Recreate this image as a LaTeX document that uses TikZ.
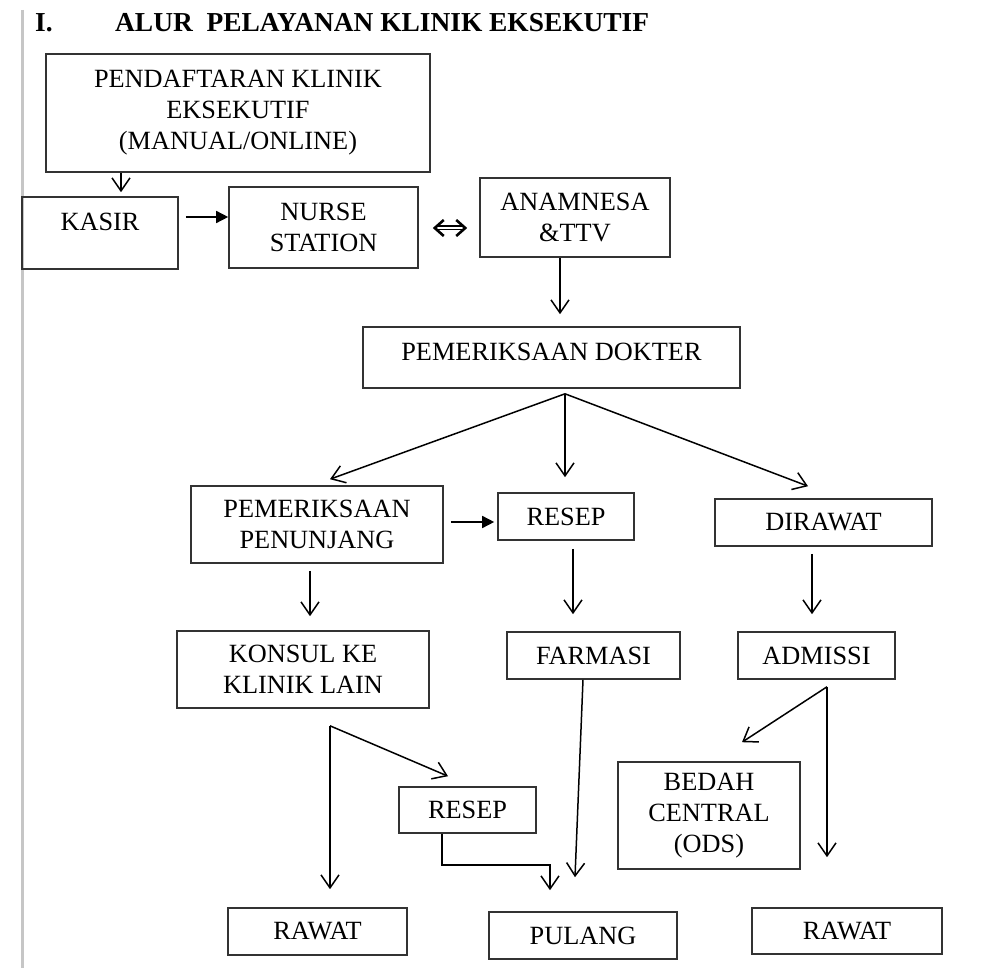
\documentclass[tikz,border=0pt]{standalone}
\usepackage{fontspec}
\setmainfont{Liberation Serif}
\usetikzlibrary{arrows.meta,calc}

\tikzset{
  kotak/.style={draw=black!80, line width=1.6pt, align=center, inner sep=0pt,
    font=\fontsize{26.3}{31}\selectfont},
  panah/.style={line width=1.5pt, -{Straight Barb[length=13pt,width=18pt]}},
  panahpenuh/.style={line width=1.5pt, -{Triangle[length=12pt,width=12pt]}},
  panahdua/.style={double, double distance=2.4pt, line width=1.3pt,
    {Straight Barb[length=9pt,width=16pt,line width=2.6pt]}-{Straight Barb[length=9pt,width=16pt,line width=2.6pt]}},
  judulteks/.style={font=\fontsize{27.4}{31}\selectfont\bfseries, anchor=base west, inner sep=0pt}
}

\begin{document}
\begin{tikzpicture}[x=1pt, y=-1pt]
  \useasboundingbox (0,0) rectangle (997,968);

  % Gray margin line on the left
  \draw[gray!45, line width=3pt] (22,10) -- (22,968);

  % Title
  \node[judulteks] (nomor) at (35,32) {I.};
  \node[judulteks] (judul) at (115,32) {ALUR\ \ PELAYANAN KLINIK EKSEKUTIF};

  % Boxes, placed at their centres
  \node[kotak, minimum width=384pt, minimum height=118pt] (daftar) at (238,113) {PENDAFTARAN KLINIK\\EKSEKUTIF\\(MANUAL/ONLINE)};
  \node[kotak, minimum width=156pt, minimum height=72pt, text depth=22pt] (kasir) at (100,233) {KASIR};
  \node[kotak, minimum width=189pt, minimum height=81pt] (nurse) at (323.5,227.5) {NURSE\\STATION};
  \node[kotak, minimum width=190pt, minimum height=79pt] (anamnesa) at (575,217.5) {ANAMNESA\\\&TTV};
  \node[kotak, minimum width=377pt, minimum height=61pt, text depth=12pt] (dokter) at (551.5,357.5) {PEMERIKSAAN DOKTER};

  \node[kotak, minimum width=252pt, minimum height=77pt] (penunjang) at (317,524.5) {PEMERIKSAAN\\PENUNJANG};
  \node[kotak, minimum width=136pt, minimum height=47pt] (resep) at (566,516.5) {RESEP};
  \node[kotak, minimum width=217pt, minimum height=47pt] (dirawat) at (823.5,522.5) {DIRAWAT};

  \node[kotak, minimum width=252pt, minimum height=77pt] (konsul) at (303,669.5) {KONSUL KE\\KLINIK LAIN};
  \node[kotak, minimum width=173pt, minimum height=47pt] (farmasi) at (593.5,655.5) {FARMASI};
  \node[kotak, minimum width=157pt, minimum height=47pt] (admissi) at (816.5,655.5) {ADMISSI};

  \node[kotak, minimum width=137pt, minimum height=46pt] (resepkonsul) at (467.5,810) {RESEP};
  \node[kotak, minimum width=182pt, minimum height=107pt] (bedah) at (709,815.5) {BEDAH\\CENTRAL\\(ODS)};

  \node[kotak, minimum width=179pt, minimum height=47pt] (rawatkiri) at (317.5,931.5) {RAWAT};
  \node[kotak, minimum width=188pt, minimum height=47pt] (pulang) at (583,935.5) {PULANG};
  \node[kotak, minimum width=190pt, minimum height=46pt] (rawatkanan) at (847,931) {RAWAT};

  % Top row
  \draw[panah] (121,0 |- daftar.south) -- ($(121,0 |- kasir.north)+(0,-4)$);
  \draw[panahpenuh] ($(kasir.east |- 0,217)+(7,0)$) -- (nurse.west |- 0,217);
  \draw[panahdua] ($(nurse.east |- 0,228)+(14,0)$) -- ($(anamnesa.west |- 0,228)+(-12,0)$);
  \draw[panah] (560,0 |- anamnesa.south) -- ($(560,0 |- dokter.north)+(0,-12)$);

  % Three ways out of the doctor
  \coordinate (cabang) at ($(565,0 |- dokter.south)+(0,5)$);
  \draw[panah] (cabang) -- ($(330,0 |- penunjang.north)+(0,-6)$);
  \draw[panah] (cabang) -- ($(565,0 |- resep.north)+(0,-15)$);
  \draw[panah] (cabang) -- ($(808,0 |- dirawat.north)+(0,-12)$);

  \draw[panahpenuh] ($(penunjang.east |- 0,522)+(7,0)$) -- ($(resep.west |- 0,522)+(-3,0)$);
  \draw[panah] ($(310,0 |- penunjang.south)+(0,7)$) -- ($(310,0 |- konsul.north)+(0,-14)$);
  \draw[panah] ($(573,0 |- resep.south)+(0,8)$) -- ($(573,0 |- farmasi.north)+(0,-17)$);
  \draw[panah] ($(812,0 |- dirawat.south)+(0,7)$) -- ($(812,0 |- admissi.north)+(0,-17)$);

  % After the consultation
  \coordinate (cabangkonsul) at ($(330,0 |- konsul.south)+(0,17)$);
  \draw[panah] (cabangkonsul) -- ($(330,0 |- rawatkiri.north)+(0,-18)$);
  \draw[panah] (cabangkonsul) -- ($(448,0 |- resepkonsul.north)+(0,-10)$);
  \draw[panah] (442,0 |- resepkonsul.south) -- ++(0,31) -| ($(550,0 |- pulang.north)+(0,-21)$);
  \draw[panah] (583,0 |- farmasi.south) -- ($(575,0 |- pulang.north)+(0,-34)$);

  % After admission
  \coordinate (cabangadmissi) at ($(827,0 |- admissi.south)+(0,7)$);
  \draw[panah] (cabangadmissi) -- ($(742,0 |- bedah.north)+(0,-19)$);
  \draw[panah] (cabangadmissi) -- ($(827,0 |- rawatkanan.north)+(0,-50)$);
\end{tikzpicture}
\end{document}
